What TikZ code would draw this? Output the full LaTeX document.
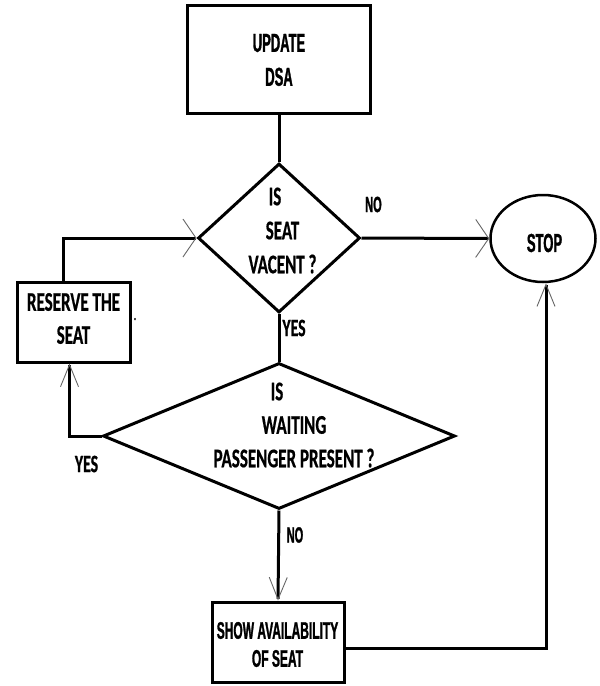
\documentclass[tikz,border=0pt]{standalone}
\usepackage{fontspec}
\newfontfamily\calb[FakeStretch=0.63,FakeBold=0.6]{Carlito}
\newfontfamily\arn[FakeStretch=0.5,FakeBold=1.2]{Liberation Sans}
\usetikzlibrary{shapes.geometric,arrows.meta}
\begin{document}
\begin{tikzpicture}[x=1pt,y=-1pt,
  box/.style={draw, line width=3pt, rectangle, inner sep=0pt},
  conn/.style={line width=3pt},
  harr/.style={-{Straight Barb[length=13pt,width=38pt,line width=0.9pt 0,color=gray!80!black]}},
  varr/.style={-{Straight Barb[length=22pt,width=18pt,line width=0.9pt 0,color=gray!80!black]}},
  txtc/.style={font=\calb\bfseries\fontsize{27}{34}\selectfont, align=center, inner sep=0pt},
  txta/.style={font=\arn\bfseries\fontsize{26}{34}\selectfont, align=center, inner sep=0pt}
]
\useasboundingbox (0,0) rectangle (600,686);
% shapes
\node[box, minimum width=183pt, minimum height=108pt] (upd) at (279,59) {};
\node[txta] (updt) at (279,60) {UPDATE\\DSA};
\node[diamond, draw, line width=3pt, minimum width=162pt, minimum height=149pt, inner sep=0pt] (d1) at (279,238) {};
\node[txtc] (d1t) at (282.5,230.5) {IS\hspace*{15pt}\\SEAT\hspace*{15pt}\\VACENT ?};
\node[diamond, draw, line width=3pt, minimum width=352pt, minimum height=146pt, inner sep=0pt] (d2) at (279,436) {};
\node[txtc, font=\calb\bfseries\fontsize{27}{33.5}\selectfont] (d2t) at (294,425) {IS\hspace*{34pt}\\WAITING\hspace*{34pt}\\PASSENGER PRESENT ?};
\node[ellipse, draw, line width=2.5pt, minimum width=105pt, minimum height=87pt, inner sep=0pt] (stop) at (543,238.5) {};
\node[txta] (stopt) at (544.5,243) {STOP};
\node[box, minimum width=113pt, minimum height=80pt] (res) at (73.5,322) {};
\node[txtc, font=\calb\bfseries\fontsize{27}{33}\selectfont] (rest) at (73.5,318.5) {RESERVE THE\\SEAT};
\node[txtc, anchor=base, font=\calb\bfseries\fontsize{14}{14}\selectfont] (dot) at (135,320) {.};
\node[box, minimum width=132pt, minimum height=80pt] (show) at (278,642) {};
\node[txta, font=\arn\bfseries\fontsize{24}{28}\selectfont] (showt) at (277.5,644.5) {SHOW AVAILABILITY\\OF SEAT};
% labels
\node[txta, font=\arn\bfseries\fontsize{22}{22}\selectfont] (no1) at (373.5,204.5) {NO};
\node[txtc, font=\calb\bfseries\fontsize{25}{25}\selectfont] (yes1) at (294,328) {YES};
\node[txtc, font=\calb\bfseries\fontsize{25}{25}\selectfont] (yes2) at (86.5,464) {YES};
\node[txta, font=\arn\bfseries\fontsize{22}{22}\selectfont] (no2) at (295,535) {NO};
% connectors
\draw[conn] (upd.south) -- (d1.north);
\draw[conn, harr] (d1.east) -- (stop.west);
\draw[conn] (d1.south) -- (d2.north);
\draw[conn, varr] (d2.south) -- (show.north);
\draw[conn, varr] ([yshift=-6pt]show.east) -| ([xshift=3pt]stop.south);
\draw[conn, varr] (d2.west) -| ([xshift=-4pt]res.south);
\draw[conn, harr] ([xshift=-10pt]res.north) |- (d1.west);
\end{tikzpicture}
\end{document}
